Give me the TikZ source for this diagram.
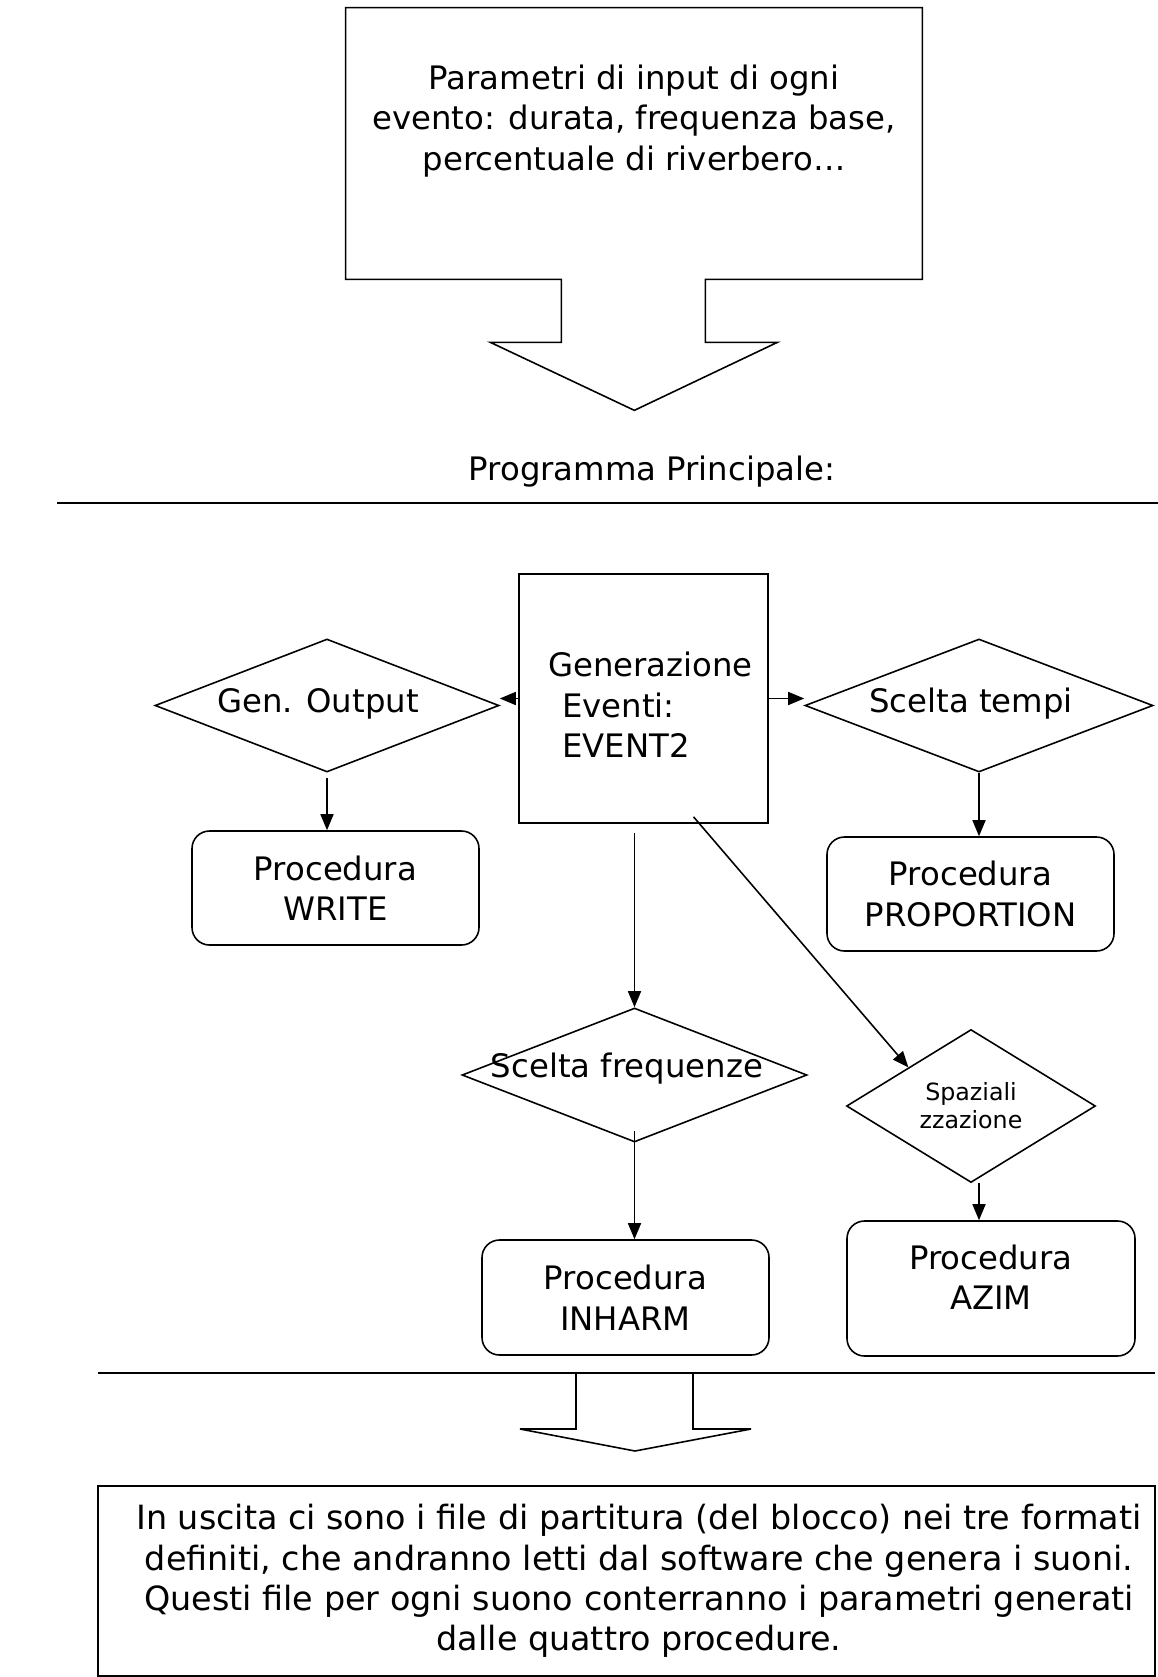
\documentclass[tikz,border=0pt]{standalone}
\usepackage{fontspec}
\setmainfont{DejaVu Sans}
\usetikzlibrary{shapes.geometric, positioning, arrows.meta}
\tikzset{
>={Triangle[length=0.32cm, width=0.26cm]}, % filled arrow heads
every node/.style={font=\fontsize{18.4}{23}\selectfont}, % one text size for the chart
thinline/.style={line width=0.9pt}, % outline of every shape
flow/.style={->, thinline}, % connectors between the blocks
procbox/.style={draw, thinline, rounded corners=0.35cm, minimum width=5.74cm, minimum height=2.28cm, align=center, inner sep=0pt}, % procedure blocks
choice/.style={diamond, draw, thinline, inner sep=0pt}, % decision diamonds, text goes in a label
mainbox/.style={draw, thinline, minimum width=4.98cm, minimum height=4.98cm, inner sep=0pt}, % event generator
}

\begin{document}
\begin{tikzpicture}
        \useasboundingbox (0,0) rectangle (23.16,-33.54);

        % Input block with its down arrow
        \node[minimum width=11.52cm, minimum height=5.42cm] (input) at (12.68,-2.87) {};
        \node[align=center] (inputtext) at (12.68,-2.42) {Parametri di input di ogni\\evento: durata, frequenza base,\\percentuale di riverbero…};
        \draw[thinline] (input.south west) -- (input.north west) -- (input.north east) -- (input.south east)
            -- ++(-4.34,0) -- ++(0,-1.26) -- ++(1.44,0) -- ++(-2.86,-1.36) -- ++(-2.88,1.36) -- ++(1.42,0) -- ++(0,1.26) -- cycle;

        % Main program
        \node (title) at (13.04,-9.44) {Programma Principale:};
        \draw[thinline] (1.14,-10.06) -- (23.16,-10.06);

        \node[mainbox] (event) at (12.87,-13.97) {};
        \node[align=left] (eventtext) at (13.01,-14.10) {Generazione\\\hspace*{0.28cm}Eventi:\\\hspace*{0.28cm}EVENT2};

        \node[choice, minimum width=6.88cm, minimum height=2.66cm, label={[xshift=-0.18cm, yshift=0.03cm]center:Gen. Output}] (genout) at (6.54,-14.11) {};
        \node[choice, minimum width=6.96cm, minimum height=2.66cm, label={[xshift=-0.16cm, yshift=0.03cm]center:Scelta tempi}] (tempi) at (19.58,-14.11) {};
        \node[choice, minimum width=6.90cm, minimum height=2.68cm, label={[xshift=-0.15cm, yshift=0.12cm]center:Scelta frequenze}] (freq) at (12.69,-21.50) {};
        \node[choice, minimum width=4.98cm, minimum height=3.06cm, label={[align=center, font=\fontsize{13.5}{16}\selectfont]center:Spaziali\\zzazione}] (spaz) at (19.42,-22.12) {};

        \node[procbox] (write) at (6.71,-17.76) {Procedura\\WRITE};
        \node[procbox] (prop) at (19.41,-17.88) {Procedura\\PROPORTION};
        \node[procbox, minimum height=2.30cm] (inharm) at (12.51,-25.95) {Procedura\\INHARM};
        \node[procbox, minimum width=5.76cm, minimum height=2.70cm, text depth=0.45cm] (azim) at (19.82,-25.77) {Procedura\\AZIM};

        \draw[flow] (event.west) -- (event.west -| genout.east);
        \draw[flow] (event.east) -- (event.east -| tempi.west);
        \draw[flow, shorten <=0.1cm] (genout.south) -- (genout.south |- write.north);
        \draw[flow] (tempi.south) -- (tempi.south |- prop.north);
        \draw[flow, shorten <=0.18cm] (freq.north |- event.south) -- (freq.north);
        \draw[flow] ([xshift=1cm, yshift=0.14cm]event.south) -- (spaz.north west);
        \draw[flow] ([yshift=0.24cm]freq.south) -- (freq.south |- inharm.north);
        \draw[flow] ([xshift=0.16cm]spaz.south) -- ([xshift=0.16cm]spaz.south |- azim.north);

        % Output
        \draw[thinline] (1.96,-27.46) -- (23.10,-27.46);
        \draw[thinline] (11.52,-27.46) -- ++(0,-1.12) -- ++(-1.12,0) -- ++(2.30,-0.44) -- ++(2.32,0.44) -- ++(-1.16,0) -- ++(0,1.12) -- cycle;
        \node[draw, thinline, minimum width=21.14cm, minimum height=3.80cm] (output) at (12.53,-31.62) {};
        \node[align=center, font=\fontsize{19}{23}\selectfont] (outputtext) at (12.78,-31.62)
            {In uscita ci sono i file di partitura (del blocco) nei tre formati\\definiti, che andranno letti dal software che genera i suoni.\\Questi file per ogni suono conterranno i parametri generati\\dalle quattro procedure.};
    \end{tikzpicture}
\end{document}
